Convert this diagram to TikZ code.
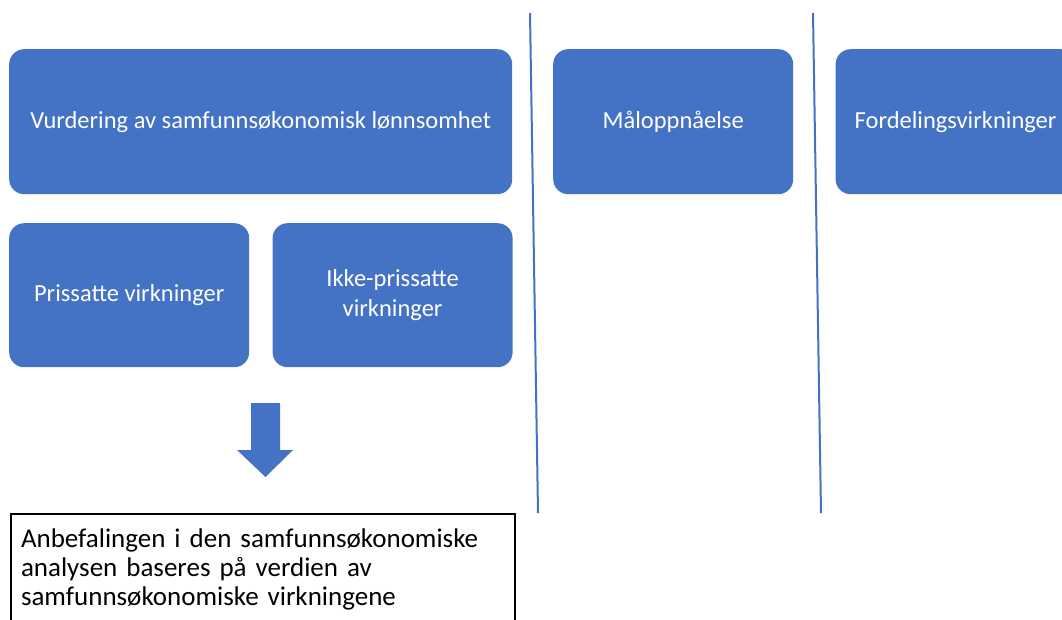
\documentclass[tikz,border=0pt]{standalone}
\usepackage{fontspec}
\setmainfont{Carlito}
\usetikzlibrary{positioning}

\definecolor{boxblue}{HTML}{4472C4}

\begin{document}
\begin{tikzpicture}[x=1pt, y=-1pt, node distance=23pt]
  \tikzstyle{block} = [rectangle, rounded corners=15pt, fill=boxblue, text=white, align=center, font=\fontsize{24.5}{30}\selectfont, inner sep=0pt, minimum height=145pt]
  \tikzstyle{wide} = [block, minimum width=503pt]
  \tikzstyle{narrow} = [block, minimum width=240pt]
  \tikzstyle{divider} = [draw=boxblue, line width=2pt]
  \tikzstyle{result} = [rectangle, draw=black, line width=2pt, anchor=north west, align=left, text width=484pt, inner xsep=10pt, inner ysep=15pt, text depth=110pt, font=\fontsize{27}{29}\selectfont]

  \clip (0,0) rectangle (1062,619);

  % left column
  \node (lonnsomhet) [wide, anchor=north west] at (9,49) {Vurdering av samfunnsøkonomisk lønnsomhet};
  \node (prissatte) [narrow, anchor=north west, minimum height=144pt] at (9,223) {Prissatte virkninger};
  \node (ikkeprissatte) [narrow, minimum height=144pt, right=of prissatte] {Ikke-prissatte\\virkninger};

  % other columns
  \node (maal) [narrow, anchor=north west] at (553,49) {Måloppnåelse};
  \node (fordeling) [narrow, right=42pt of maal] {Fordelingsvirkninger};

  % dividers
  \coordinate (d1top) at (530,13);
  \coordinate (d1bot) at (538,513);
  \coordinate (d2top) at (813,13);
  \coordinate (d2bot) at (821,513);
  \draw [divider] (d1top) -- (d1bot);
  \draw [divider] (d2top) -- (d2bot);

  % block arrow
  \fill [boxblue] (251,403) -- (280,403) -- (280,450) -- (293,450) -- (265.5,477) -- (237,450) -- (251,450) -- cycle;

  \node (anbefaling) [result] at (10,513) {Anbefalingen i den samfunnsøkonomiske\\analysen baseres på verdien av\\samfunnsøkonomiske virkningene};
\end{tikzpicture}
\end{document}
